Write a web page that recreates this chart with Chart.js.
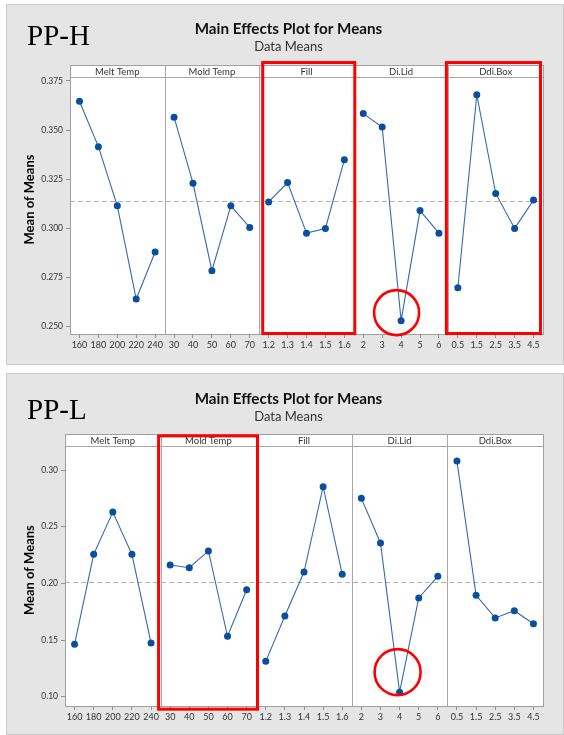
<!DOCTYPE html>
<html><head><meta charset="utf-8">
<script src="https://cdn.jsdelivr.net/npm/chart.js@4"></script>
<style>
html,body{margin:0;padding:0;background:#fff;width:564px;height:735px;overflow:hidden;}
.box{position:absolute;left:6px;width:558px;background:#e5e5e5;box-shadow:inset 0 0 0 1px #cacaca;}
#boxH{top:4px;height:361px;}
#boxL{top:373px;height:362px;}
.box canvas{position:absolute;left:0;top:0;}
.tag{position:absolute;left:21px;font-family:"Liberation Serif","Times New Roman",serif;font-size:29px;line-height:1;color:#000;white-space:nowrap;}
</style></head>
<body>
<div class="box" id="boxH"><canvas id="cH" width="558" height="361"></canvas><div class="tag" style="top:17px;">PP-H</div></div>
<div class="box" id="boxL"><canvas id="cL" width="558" height="362"></canvas><div class="tag" style="top:22px;">PP-L</div></div>
<script>
// ---- data ----
const facetNames = ['Melt Temp','Mold Temp','Fill','Di.Lid','Ddi.Box'];
const meltTempLevels = ['160','180','200','220','240'];
const moldTempLevels = ['30','40','50','60','70'];
const fillLevels = ['1.2','1.3','1.4','1.5','1.6'];
const diLidLevels = ['2','3','4','5','6'];
const ddiBoxLevels = ['0.5','1.5','2.5','3.5','4.5'];

const ppH_melt  = [0.3647,0.3416,0.3115,0.2641,0.2880];
const ppH_mold  = [0.3566,0.3230,0.2785,0.3115,0.3005];
const ppH_fill  = [0.3135,0.3233,0.2976,0.3000,0.3349];
const ppH_dilid = [0.3584,0.3516,0.2531,0.3091,0.2976];
const ppH_ddibox= [0.2698,0.3680,0.3178,0.3000,0.3144];

const ppL_melt  = [0.1462,0.2256,0.2630,0.2256,0.1474];
const ppL_mold  = [0.2162,0.2138,0.2286,0.1533,0.1944];
const ppL_fill  = [0.1312,0.1712,0.2100,0.2853,0.2080];
const ppL_dilid = [0.2750,0.2356,0.1040,0.1871,0.2062];
const ppL_ddibox= [0.3079,0.1895,0.1695,0.1759,0.1644];

const ppH_yTicks = [0.250,0.275,0.300,0.325,0.350,0.375];
const ppL_yTicks = [0.10,0.15,0.20,0.25,0.30];

const mainTitle = 'Main Effects Plot for Means';
const subTitle = 'Data Means';
const yTitle = 'Mean of Means';

// ---- build ----
const levelSets = [meltTempLevels, moldTempLevels, fillLevels, diLidLevels, ddiBoxLevels];
const allLabels = levelSets.flat();
const FONT = 'Lato, "Noto Sans", sans-serif';

function buildDatasets(series){
  const n = allLabels.length;
  let off = 0;
  return series.map((vals, k) => {
    const data = new Array(n).fill(null);
    vals.forEach((v,i)=>{ data[off+i] = v; });
    off += levelSets[k].length;
    return {
      label: facetNames[k], data, yAxisID:'y',
      borderColor:'#3469b0', borderWidth:1.1,
      pointBackgroundColor:'#0b4f9c', pointBorderColor:'#0b4f9c',
      pointRadius:3.5, pointHoverRadius:3.5, pointBorderWidth:0,
      spanGaps:false, tension:0, fill:false
    };
  });
}

function facetEdges(chart){
  const {chartArea:a, scales:{x}} = chart;
  const edges = [a.left];
  let idx = 0;
  for (let k=0;k<levelSets.length-1;k++){
    idx += levelSets[k].length;
    edges.push((x.getPixelForValue(idx-1) + x.getPixelForValue(idx))/2);
  }
  edges.push(a.right);
  return edges;
}

const facetPlugin = {
  id:'facets',
  beforeDraw(chart, args, o){
    const {ctx, chartArea:a} = chart;
    ctx.save();
    ctx.fillStyle = '#fff';
    ctx.fillRect(a.left, a.top - o.stripH, a.right - a.left, a.bottom - a.top + o.stripH);
    ctx.restore();
  },
  beforeDatasetsDraw(chart, args, o){
    const {ctx, chartArea:a, scales:{y}} = chart;
    const edges = facetEdges(chart);
    const sTop = a.top - o.stripH;
    ctx.save();
    // grand-mean dashed reference line
    const all = chart.data.datasets.flatMap(d => d.data.filter(v => v !== null));
    const mean = all.reduce((s,v)=>s+v,0)/all.length;
    const my = Math.round(y.getPixelForValue(mean)) + 0.5;
    ctx.strokeStyle = '#b4b4b4'; ctx.lineWidth = 1; ctx.setLineDash([5,3]);
    ctx.beginPath(); ctx.moveTo(a.left, my); ctx.lineTo(a.right, my); ctx.stroke();
    ctx.setLineDash([]);
    // dividers & borders
    ctx.strokeStyle = '#a8a8a8'; ctx.lineWidth = 1;
    ctx.beginPath();
    for (let i=1;i<edges.length-1;i++){
      const ex = Math.round(edges[i]) + 0.5;
      ctx.moveTo(ex, sTop); ctx.lineTo(ex, a.bottom);
    }
    ctx.moveTo(a.left, Math.round(a.top)+0.5); ctx.lineTo(a.right, Math.round(a.top)+0.5);
    ctx.stroke();
    ctx.strokeStyle = '#a0a0a0';
    ctx.strokeRect(Math.round(a.left)+0.5, Math.round(sTop)+0.5, Math.round(a.right-a.left), Math.round(a.bottom - sTop));
    // strip labels
    ctx.fillStyle = '#333'; ctx.font = '9.5px ' + FONT;
    ctx.textAlign = 'center'; ctx.textBaseline = 'middle';
    for (let i=0;i<facetNames.length;i++){
      ctx.fillText(facetNames[i], (edges[i]+edges[i+1])/2, sTop + o.stripH/2 + 0.5);
    }
    // y-axis title, centred on strip + plot
    ctx.fillStyle = '#000'; ctx.font = 'bold 13px ' + FONT;
    ctx.translate(o.yTitleX, (sTop + a.bottom)/2);
    ctx.rotate(-Math.PI/2);
    ctx.fillText(yTitle, 0, 0);
    ctx.restore();
  },
  afterDatasetsDraw(chart, args, o){
    const {ctx, chartArea:a} = chart;
    const edges = facetEdges(chart);
    const sTop = a.top - o.stripH;
    ctx.save();
    ctx.strokeStyle = '#ff0000'; ctx.lineWidth = 3;
    o.boxes.forEach(bx => {
      const l = edges[bx.k] + bx.l, r = edges[bx.k+1] + bx.r;
      const t = sTop + bx.t, b = a.bottom + bx.b;
      ctx.strokeRect(l, t, r-l, b-t);
    });
    ctx.lineWidth = 2.6;
    o.circles.forEach(c => {
      const el = chart.getDatasetMeta(c.ds).data[c.idx];
      ctx.beginPath();
      ctx.arc(el.x + c.dx, el.y + c.dy, c.r, 0, Math.PI*2);
      ctx.stroke();
    });
    ctx.restore();
  }
};

function makeChart(id, series, yTicks, yMin, yMax, dec, cfg){
  return new Chart(document.getElementById(id), {
    type:'line',
    data:{ labels: allLabels, datasets: buildDatasets(series) },
    plugins:[facetPlugin],
    options:{
      responsive:false, animation:false,
      layout:{ padding:{ left:7, right:0, top:0, bottom:0 } },
      plugins:{
        legend:{display:false}, tooltip:{enabled:false},
        title:{ display:true, text:mainTitle, color:'#111',
          font:{family:FONT, size:15.2, weight:'bold'}, padding:{top:cfg.tTop, bottom:0} },
        subtitle:{ display:true, text:subTitle, color:'#333',
          font:{family:FONT, size:13}, padding:{top:cfg.sTop, bottom:cfg.sBot} },
        facets:{ stripH:12, boxes:cfg.boxes, circles:cfg.circles, yTitleX:24 }
      },
      scales:{
        x:{ type:'category', offset:true,
          grid:{ offset:false, drawOnChartArea:false, drawTicks:true, tickLength:4, color:'#8f8f8f' },
          border:{ display:false },
          ticks:{ autoSkip:false, maxRotation:0, minRotation:0, padding:2, color:'#333',
            font:{family:FONT, size:9} },
          afterFit(s){ s.height = cfg.xH; }
        },
        y:{ type:'linear', position:'left', min:yMin, max:yMax,
          afterBuildTicks(s){ s.ticks = yTicks.map(v=>({value:v})); },
          grid:{ drawOnChartArea:false, drawTicks:true, tickLength:4, color:'#8f8f8f' },
          border:{ display:false },
          ticks:{ padding:3, color:'#333', font:{family:FONT, size:8.5},
            callback:(v)=>Number(v).toFixed(dec) },
          afterFit(s){ s.width = cfg.yW - 7; }
        },
        yRight:{ type:'linear', position:'right', display:true, min:yMin, max:yMax,
          grid:{ display:false }, border:{ display:false }, ticks:{ display:false },
          afterFit(s){ s.width = 21; }
        }
      }
    }
  });
}

makeChart('cH', [ppH_melt, ppH_mold, ppH_fill, ppH_dilid, ppH_ddibox], ppH_yTicks, 0.2463, 0.3770, 3, {
  tTop:15.9, sTop:1.1, sBot:22.2, xH:31, yW:64,
  boxes:[{k:2, l:3.5, r:1, t:-2.5, b:-0.5}, {k:4, l:-2, r:-2.5, t:-2.5, b:-0.5}],
  circles:[{ds:3, idx:17, dx:-4.5, dy:-8, r:22.5}]
});
makeChart('cL', [ppL_melt, ppL_mold, ppL_fill, ppL_dilid, ppL_ddibox], ppL_yTicks, 0.0918, 0.3209, 2, {
  tTop:16.9, sTop:0.8, sBot:21.8, xH:29, yW:59,
  boxes:[{k:1, l:-2, r:1.3, t:1.5, b:3.2}],
  circles:[{ds:3, idx:17, dx:-2, dy:-20, r:23}]
});
</script>
</body></html>
